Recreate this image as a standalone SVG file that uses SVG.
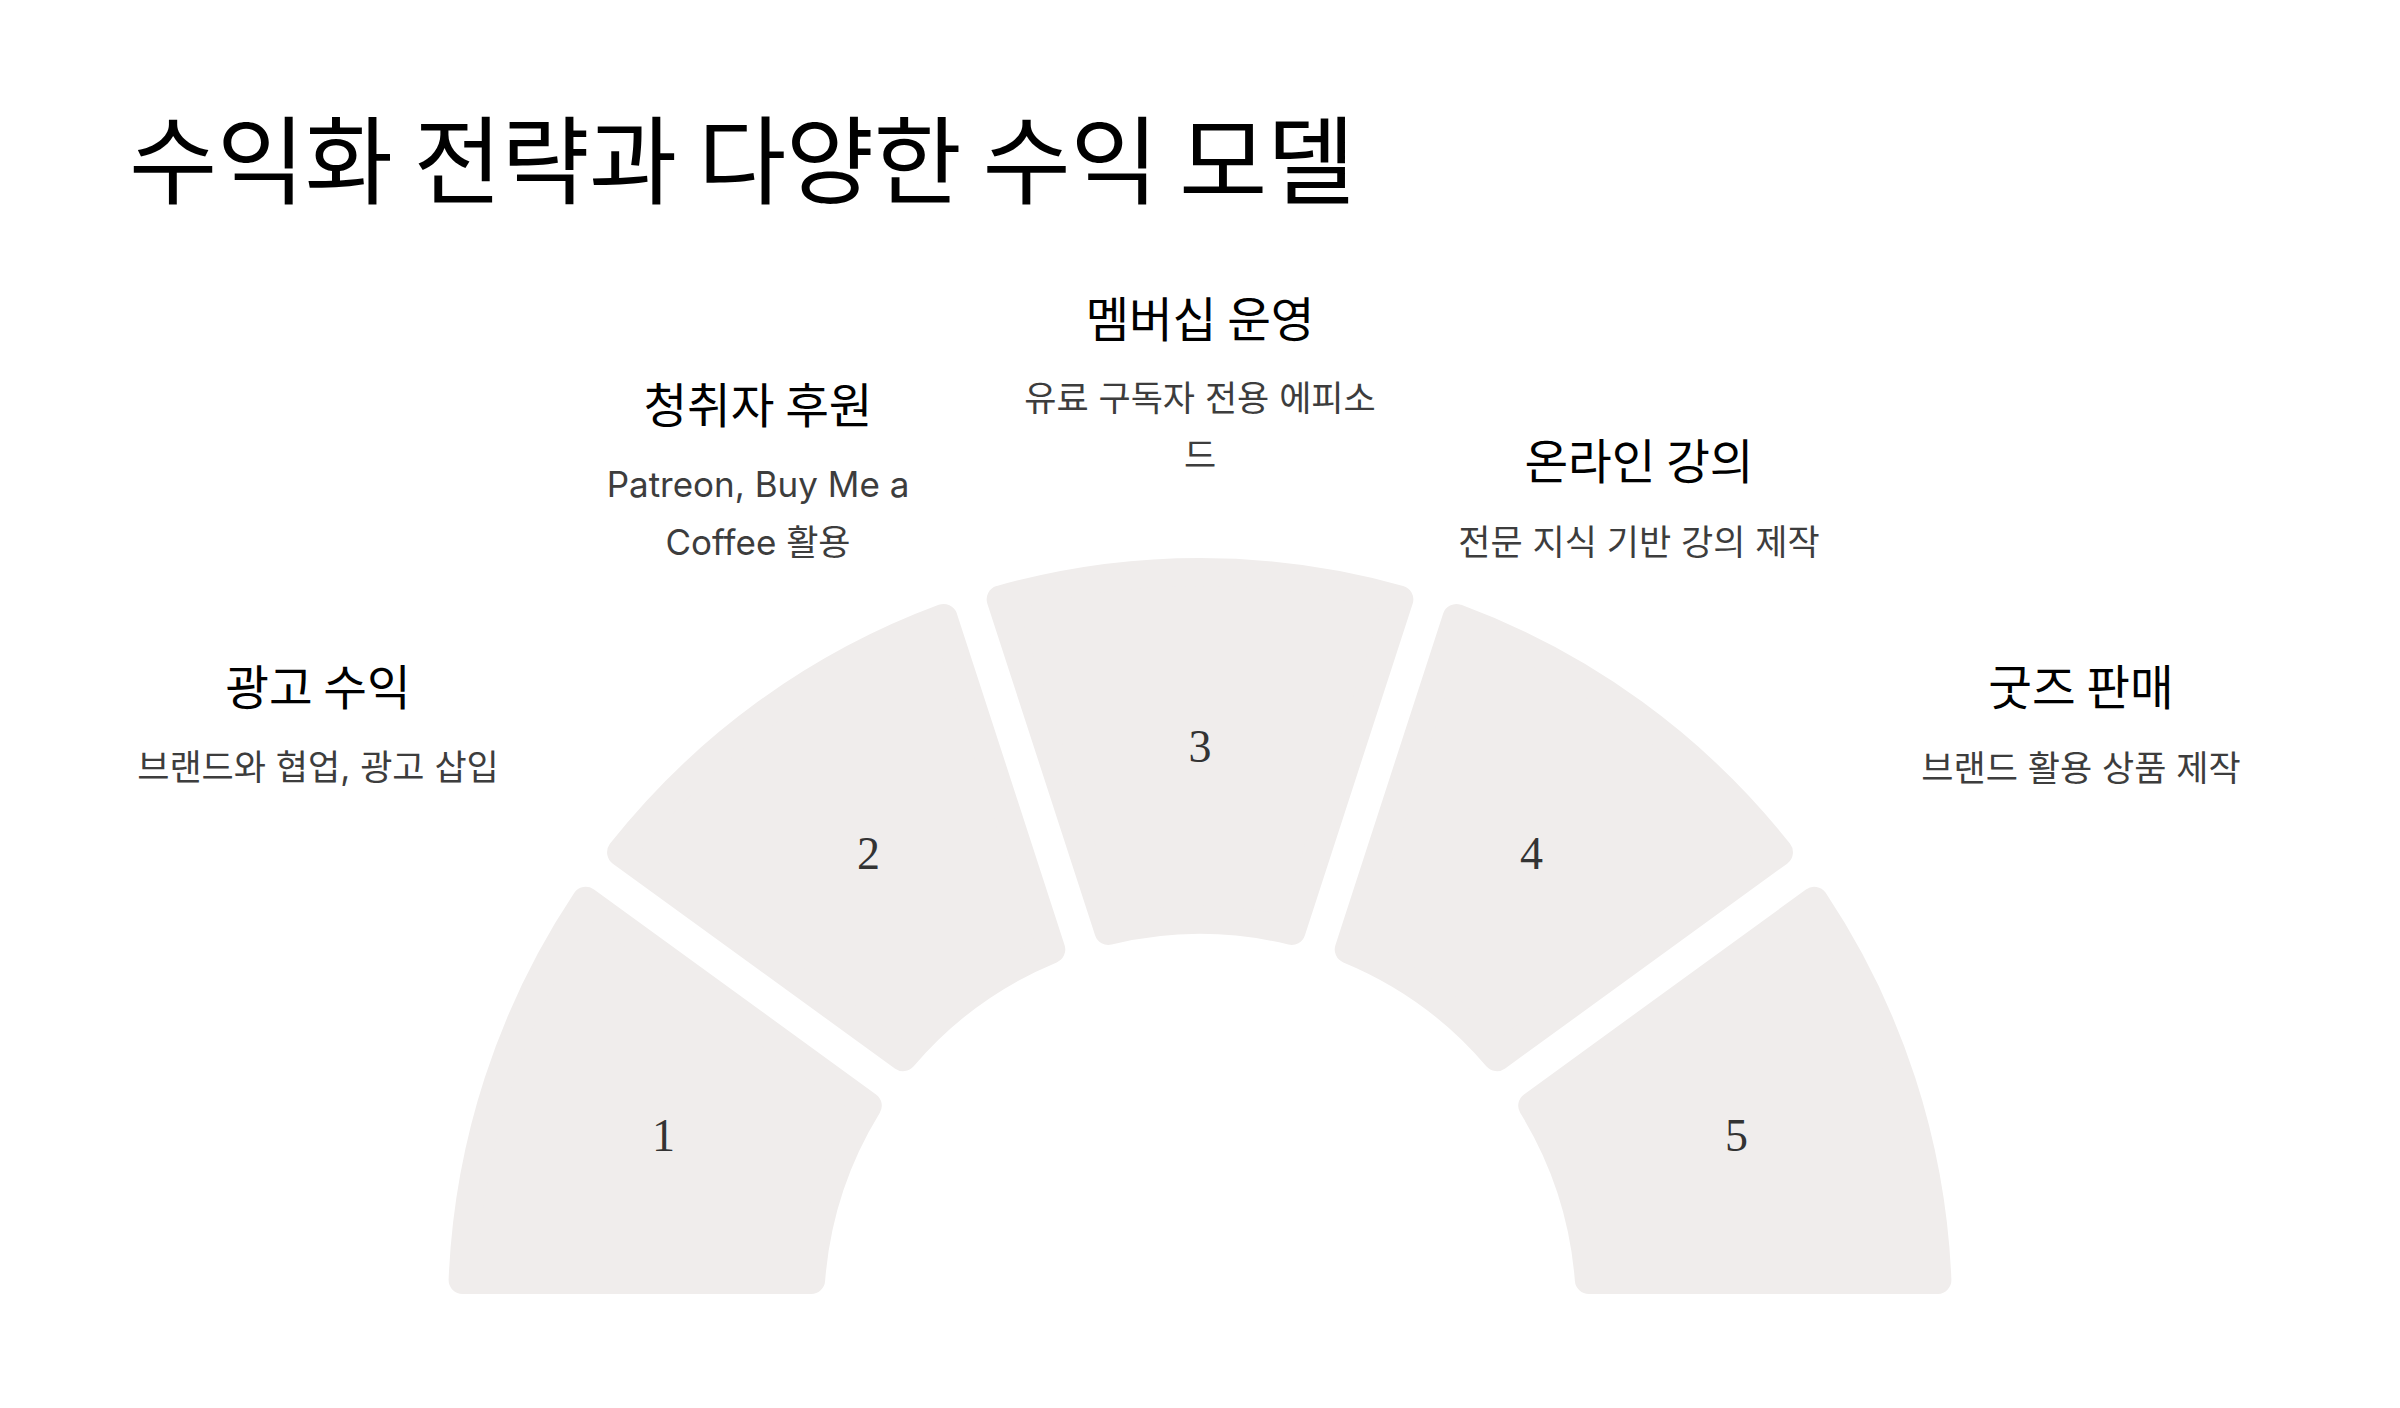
<svg xmlns="http://www.w3.org/2000/svg" width="2400" height="1408" viewBox="0 0 2400 1408">
  <style>
    .seg { fill: #F0EDEC; stroke: #F0EDEC; stroke-width: 28; stroke-linejoin: round; }
    .num { font-family: "Liberation Serif", "DejaVu Serif", serif; font-size: 46px; fill: #333333; text-anchor: middle; dominant-baseline: central; }
    .head { font-family: "Noto Sans CJK KR", "Noto Sans", sans-serif; font-size: 47.5px; fill: #000000; text-anchor: middle; }
    .sub { font-family: "Inter", "Noto Sans CJK KR", sans-serif; font-size: 35px; fill: #3D3D3D; text-anchor: middle; }
    .title { font-family: "Noto Sans CJK KR", "Noto Sans", sans-serif; font-size: 96px; letter-spacing: -0.5px; fill: #000000; }
  </style>
  <rect x="0" y="0" width="2400" height="1408" fill="#FFFFFF"/>
  <text class="title" x="129" y="196">수익화 전략과 다양한 수익 모델</text>

  <g id="node-1">
    <path class="seg" d="M462.61,1280 A738,738 0 0 1 585.80,900.85 L867.78,1105.71 A390,390 0 0 0 811.15,1280 Z"/>
    <text class="num" x="663.6" y="1135.7">1</text>
    <text class="head" x="318" y="705">광고 수익</text>
    <text class="sub" x="318" y="780">브랜드와 협업, 광고 삽입</text>
  </g>
  <g id="node-2">
    <path class="seg" d="M621.07,852.30 A738,738 0 0 1 943.60,617.97 L1051.30,949.46 A390,390 0 0 0 903.05,1057.17 Z"/>
    <text class="num" x="868.5" y="853.7">2</text>
    <text class="head" x="758" y="423">청취자 후원</text>
    <text class="sub" x="758" y="497">Patreon, Buy Me a</text>
    <text class="sub" x="758" y="555">Coffee 활용</text>
  </g>
  <g id="node-3">
    <path class="seg" d="M1000.67,599.43 A738,738 0 0 1 1399.33,599.43 L1291.62,930.92 A390,390 0 0 0 1108.38,930.92 Z"/>
    <text class="num" x="1200" y="746">3</text>
    <text class="head" x="1200" y="337">멤버십 운영</text>
    <text class="sub" x="1200" y="411">유료 구독자 전용 에피소</text>
    <text class="sub" x="1200" y="468">드</text>
  </g>
  <g id="node-4">
    <path class="seg" d="M1456.40,617.97 A738,738 0 0 1 1778.93,852.30 L1496.95,1057.17 A390,390 0 0 0 1348.70,949.46 Z"/>
    <text class="num" x="1531.5" y="853.7">4</text>
    <text class="head" x="1639" y="479">온라인 강의</text>
    <text class="sub" x="1639" y="555">전문 지식 기반 강의 제작</text>
  </g>
  <g id="node-5">
    <path class="seg" d="M1814.20,900.85 A738,738 0 0 1 1937.39,1280 L1588.85,1280 A390,390 0 0 0 1532.22,1105.71 Z"/>
    <text class="num" x="1736.4" y="1135.7">5</text>
    <text class="head" x="2081" y="705">굿즈 판매</text>
    <text class="sub" x="2081" y="781">브랜드 활용 상품 제작</text>
  </g>
  <g id="connectors"></g>
</svg>
